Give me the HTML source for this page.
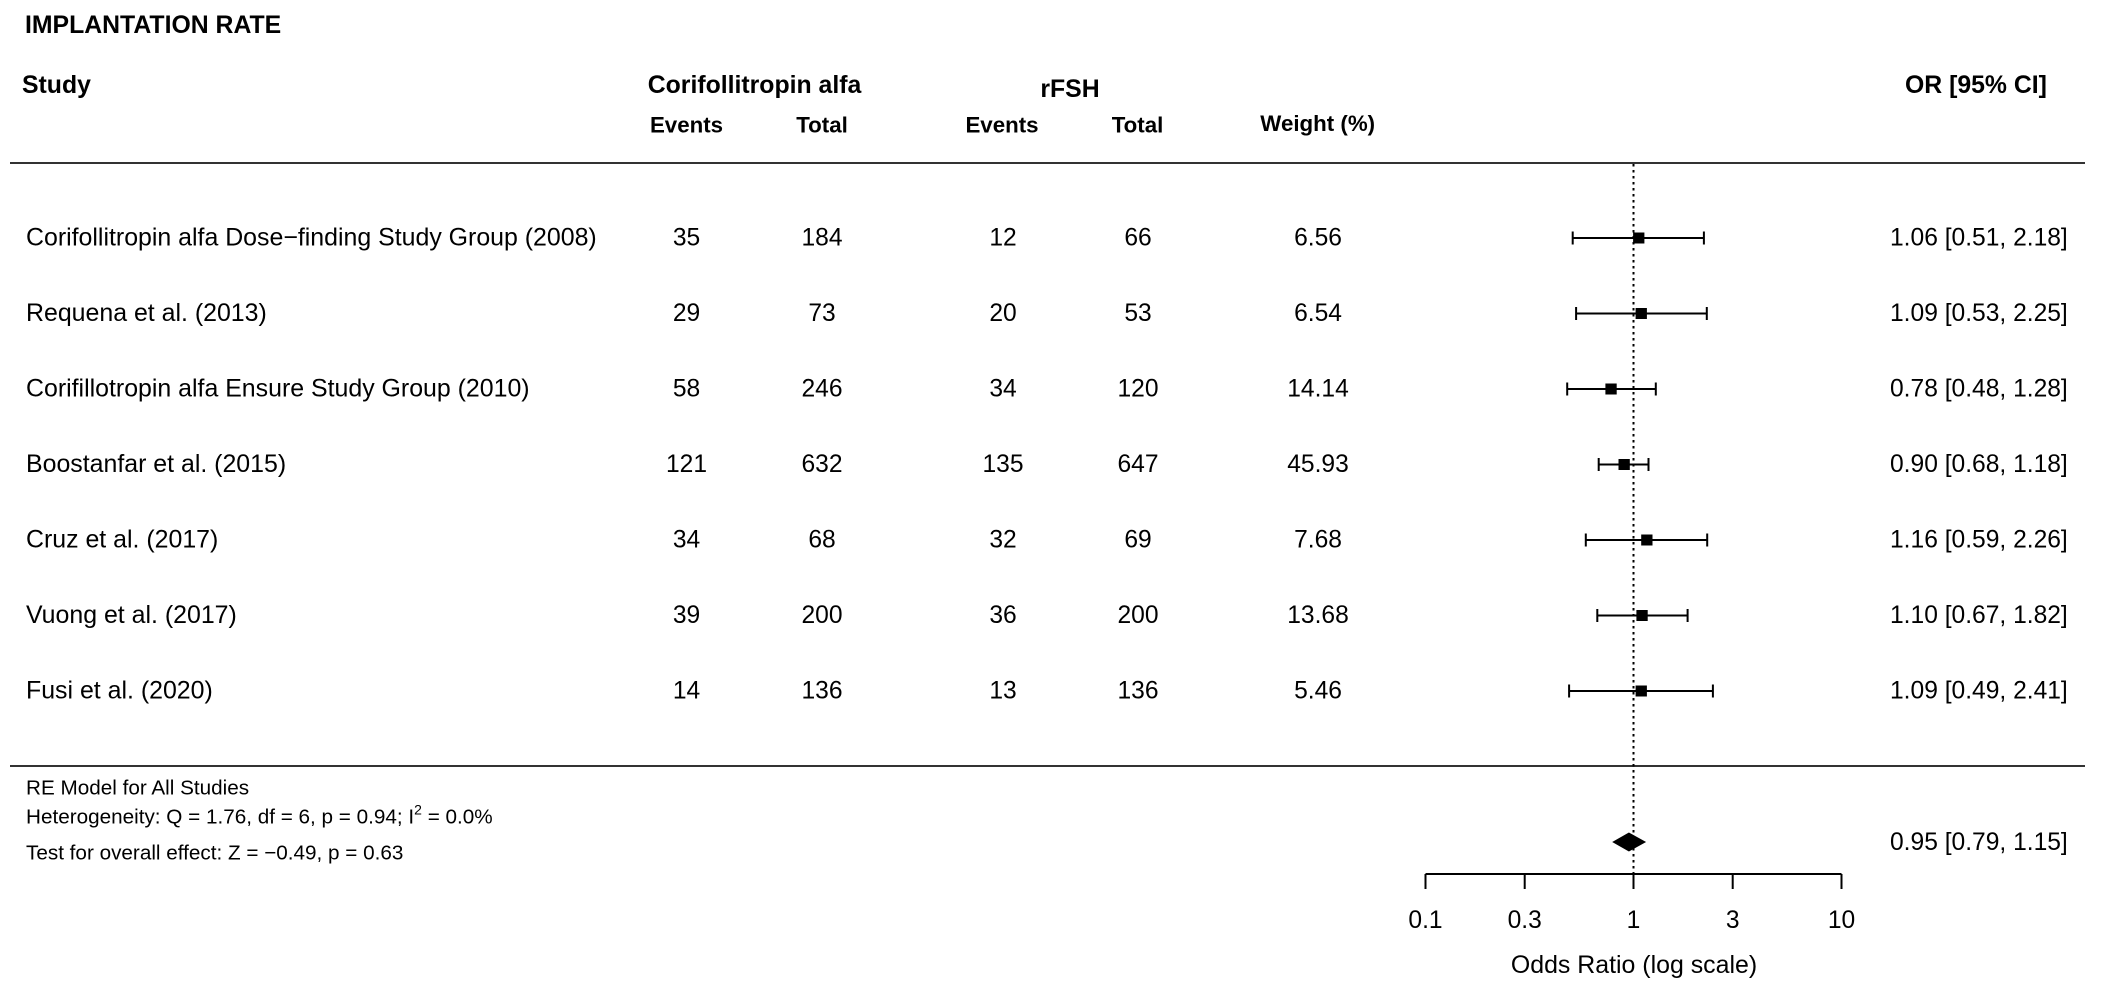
<!DOCTYPE html>
<html>
<head>
<meta charset="utf-8">
<style>
html,body{margin:0;padding:0;background:#fff;}
svg{display:block;}
text{font-family:"Liberation Sans",Arial,Helvetica,sans-serif;fill:#000;}
.b{font-weight:bold;}
.h1{font-size:24.8px;font-weight:bold;}
.h2{font-size:22.3px;font-weight:bold;}
.t{font-size:24.6px;}
.n{font-size:24.9px;}
.s{font-size:20.7px;}
</style>
</head>
<body>
<svg width="2114" height="995" viewBox="0 0 2114 995" xmlns="http://www.w3.org/2000/svg">
<rect width="2114" height="995" fill="#fff"/>

<!-- Title -->
<text class="h1" x="25" y="33">IMPLANTATION RATE</text>

<!-- Headers row 1 -->
<text class="h1" x="22" y="93">Study</text>
<text class="h1" x="754.5" y="93" text-anchor="middle">Corifollitropin alfa</text>
<text class="h1" x="1070" y="97" text-anchor="middle">rFSH</text>
<text class="h1" x="1905" y="93">OR [95% CI]</text>

<!-- Headers row 2 -->
<text class="h2" x="686.5" y="132.7" text-anchor="middle">Events</text>
<text class="h2" x="822" y="132.7" text-anchor="middle">Total</text>
<text class="h2" x="1002" y="132.7" text-anchor="middle">Events</text>
<text class="h2" x="1137.5" y="132.7" text-anchor="middle">Total</text>
<text class="h2" x="1317.7" y="131" text-anchor="middle">Weight (%)</text>

<!-- Rules -->
<line x1="10" y1="163" x2="2085" y2="163" stroke="#333" stroke-width="2"/>
<line x1="10" y1="766" x2="2085" y2="766" stroke="#333" stroke-width="2"/>

<!-- Reference dotted line -->
<line x1="1633.5" y1="164" x2="1633.5" y2="874" stroke="#000" stroke-width="2" stroke-dasharray="2.5,3.5"/>

<!-- Rows -->
<g class="n">
<text x="26" y="245.5">Corifollitropin alfa Dose−finding Study Group (2008)</text>
<text x="26" y="321">Requena et al. (2013)</text>
<text x="26" y="396.5">Corifillotropin alfa Ensure Study Group (2010)</text>
<text x="26" y="472">Boostanfar et al. (2015)</text>
<text x="26" y="547.5">Cruz et al. (2017)</text>
<text x="26" y="623">Vuong et al. (2017)</text>
<text x="26" y="698.5">Fusi et al. (2020)</text>
</g>

<g class="t" text-anchor="middle">
<text x="686.5" y="245.5">35</text><text x="822" y="245.5">184</text><text x="1003" y="245.5">12</text><text x="1138" y="245.5">66</text><text x="1318" y="245.5">6.56</text>
<text x="686.5" y="321">29</text><text x="822" y="321">73</text><text x="1003" y="321">20</text><text x="1138" y="321">53</text><text x="1318" y="321">6.54</text>
<text x="686.5" y="396.5">58</text><text x="822" y="396.5">246</text><text x="1003" y="396.5">34</text><text x="1138" y="396.5">120</text><text x="1318" y="396.5">14.14</text>
<text x="686.5" y="472">121</text><text x="822" y="472">632</text><text x="1003" y="472">135</text><text x="1138" y="472">647</text><text x="1318" y="472">45.93</text>
<text x="686.5" y="547.5">34</text><text x="822" y="547.5">68</text><text x="1003" y="547.5">32</text><text x="1138" y="547.5">69</text><text x="1318" y="547.5">7.68</text>
<text x="686.5" y="623">39</text><text x="822" y="623">200</text><text x="1003" y="623">36</text><text x="1138" y="623">200</text><text x="1318" y="623">13.68</text>
<text x="686.5" y="698.5">14</text><text x="822" y="698.5">136</text><text x="1003" y="698.5">13</text><text x="1138" y="698.5">136</text><text x="1318" y="698.5">5.46</text>
</g>

<g class="t">
<text x="1890" y="245.5">1.06 [0.51, 2.18]</text>
<text x="1890" y="321">1.09 [0.53, 2.25]</text>
<text x="1890" y="396.5">0.78 [0.48, 1.28]</text>
<text x="1890" y="472">0.90 [0.68, 1.18]</text>
<text x="1890" y="547.5">1.16 [0.59, 2.26]</text>
<text x="1890" y="623">1.10 [0.67, 1.82]</text>
<text x="1890" y="698.5">1.09 [0.49, 2.41]</text>
<text x="1890" y="850">0.95 [0.79, 1.15]</text>
</g>

<!-- CI bars -->
<g stroke="#000" stroke-width="2" fill="none">
<path d="M1572.7 238H1703.9 M1572.7 231.5V244.5 M1703.9 231.5V244.5"/>
<path d="M1576.1 313.5H1706.8 M1576.1 307V320 M1706.8 307V320"/>
<path d="M1567.2 389H1655.8 M1567.2 382.5V395.5 M1655.8 382.5V395.5"/>
<path d="M1598.7 464.5H1648.5 M1598.7 458V471 M1648.5 458V471"/>
<path d="M1585.8 540H1707.2 M1585.8 533.5V546.5 M1707.2 533.5V546.5"/>
<path d="M1597.3 615.5H1687.6 M1597.3 609V622 M1687.6 609V622"/>
<path d="M1569.1 691H1712.9 M1569.1 684.5V697.5 M1712.9 684.5V697.5"/>
</g>

<!-- Squares -->
<g fill="#000">
<rect x="1633.1" y="232.5" width="11.3" height="11"/>
<rect x="1635.6" y="308" width="11.3" height="11"/>
<rect x="1605.4" y="383.5" width="11.3" height="11"/>
<rect x="1618.5" y="459" width="11.3" height="11"/>
<rect x="1641.2" y="534.5" width="11.3" height="11"/>
<rect x="1636.4" y="610" width="11.3" height="11"/>
<rect x="1635.6" y="685.5" width="11.3" height="11"/>
</g>

<!-- Summary diamond -->
<polygon points="1612.2,842 1628.9,832.5 1646.1,842 1628.9,851.5" fill="#000"/>

<!-- Bottom-left text -->
<g class="s">
<text x="26" y="794.3">RE Model for All Studies</text>
<text x="26" y="823.3">Heterogeneity: Q = 1.76, df = 6, p = 0.94; I<tspan font-size="14" dy="-9">2</tspan><tspan dy="9"> = 0.0%</tspan></text>
<text x="26" y="859.3">Test for overall effect: Z = −0.49, p = 0.63</text>
</g>

<!-- X axis -->
<g stroke="#000" stroke-width="2" fill="none">
<path d="M1425.5 874H1841.5"/>
<path d="M1425.5 874V889 M1524.7 874V889 M1633.5 874V889 M1732.7 874V889 M1841.5 874V889"/>
</g>
<g class="t" text-anchor="middle">
<text x="1425.5" y="928">0.1</text>
<text x="1524.7" y="928">0.3</text>
<text x="1633.5" y="928">1</text>
<text x="1732.7" y="928">3</text>
<text x="1841.5" y="928">10</text>
<text x="1634" y="973" font-size="24.9">Odds Ratio (log scale)</text>
</g>
</svg>
</body>
</html>
